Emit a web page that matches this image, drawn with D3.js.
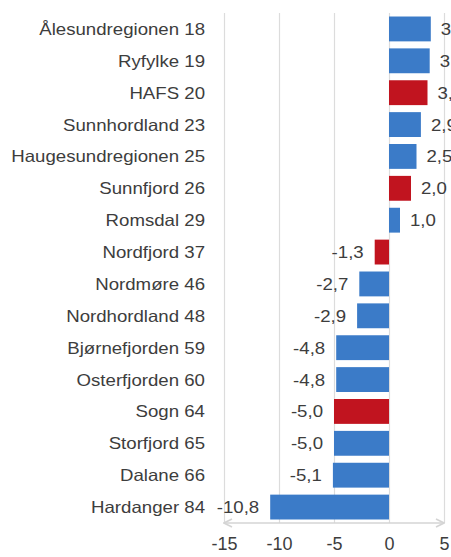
<!DOCTYPE html>
<html>
<head>
<meta charset="utf-8">
<script src="https://cdn.jsdelivr.net/npm/d3@7"></script>
<style>
  html, body { margin: 0; padding: 0; background: #fff; overflow: hidden; }
  svg { display: block; font-family: "Liberation Sans", Arial, sans-serif; }
</style>
</head>
<body>
<svg id="chart"></svg>
<script>
// regions with their number, and change value
const regions = ["Ålesundregionen 18", "Ryfylke 19", "HAFS 20", "Sunnhordland 23",
  "Haugesundregionen 25", "Sunnfjord 26", "Romsdal 29", "Nordfjord 37", "Nordmøre 46",
  "Nordhordland 48", "Bjørnefjorden 59", "Osterfjorden 60", "Sogn 64", "Storfjord 65",
  "Dalane 66", "Hardanger 84"];
const values = [3.8, 3.7, 3.5, 2.9, 2.5, 2.0, 1.0, -1.3, -2.7, -2.9, -4.8, -4.8, -5.0, -5.0, -5.1, -10.8];
const highlighted = ["HAFS 20", "Sunnfjord 26", "Nordfjord 37", "Sogn 64"];
const xTicks = [-15, -10, -5, 0, 5];

const w = 451, h = 557;
const blue = "#3b7bc8", red = "#c1141f", textColor = "#3d3d3d";
const stretch = 1.13; // text in the picture is a bit wide

const data = regions.map((r, i) => ({ name: r, value: values[i] }));

const svg = d3.select("#chart").attr("width", w).attr("height", h);

const x = d3.scaleLinear().domain([-15, 5]).range([224, 444]);
const y = d3.scaleBand().domain(regions).range([13, 523])
  .paddingInner(0.22).paddingOuter(0.11);

// gridlines
const grid = svg.append("g")
  .attr("transform", `translate(0, ${y.range()[1]})`)
  .call(d3.axisBottom(x).tickValues(xTicks).tickSize(-(y.range()[1] - y.range()[0])).tickFormat(""));
grid.select(".domain").remove();
grid.selectAll(".tick line").attr("stroke", "#dcdcdc").attr("stroke-width", 1.2);

// bars
svg.append("g").selectAll("rect")
  .data(data)
  .join("rect")
  .attr("x", d => x(Math.min(0, d.value)))
  .attr("y", d => y(d.name))
  .attr("width", d => Math.abs(x(d.value) - x(0)))
  .attr("height", y.bandwidth())
  .attr("fill", d => highlighted.includes(d.name) ? red : blue);

// x axis line with arrows
const defs = svg.append("defs");
["start", "end"].forEach(k => {
  defs.append("marker")
    .attr("id", "arrow-" + k)
    .attr("viewBox", "0 0 10 10")
    .attr("refX", 9).attr("refY", 5)
    .attr("markerWidth", 10).attr("markerHeight", 10)
    .attr("markerUnits", "userSpaceOnUse")
    .attr("orient", k === "start" ? "auto-start-reverse" : "auto")
    .append("path")
    .attr("d", "M1,1 L9,5 L1,9")
    .attr("fill", "none")
    .attr("stroke", "#d4d4d4")
    .attr("stroke-width", 1.6);
});
svg.append("line")
  .attr("x1", x(-15)).attr("x2", x(5))
  .attr("y1", y.range()[1]).attr("y2", y.range()[1])
  .attr("stroke", "#d4d4d4")
  .attr("stroke-width", 1.6)
  .attr("marker-start", "url(#arrow-start)")
  .attr("marker-end", "url(#arrow-end)");

// tick labels (plain hyphen as in the source)
const ax = svg.append("g")
  .attr("transform", `translate(0, ${y.range()[1]})`)
  .call(d3.axisBottom(x).tickValues(xTicks).tickSize(0).tickPadding(14).tickFormat(d => String(d)));
ax.select(".domain").remove();
ax.selectAll("text")
  .attr("font-size", 18)
  .attr("font-family", "Liberation Sans, Arial, sans-serif")
  .attr("fill", textColor);

// category labels
svg.append("g").selectAll("text")
  .data(data)
  .join("text")
  .attr("transform", d => `translate(205, ${y(d.name) + y.bandwidth() / 2}) scale(${stretch}, 1)`)
  .attr("text-anchor", "end")
  .attr("dy", "0.36em")
  .attr("font-size", 16.5)
  .attr("fill", textColor)
  .text(d => d.name);

// value labels, decimal comma
const fmt = v => v.toFixed(1).replace(".", ",");
svg.append("g").selectAll("text")
  .data(data)
  .join("text")
  .attr("transform", d => {
    const xp = d.value >= 0 ? x(d.value) + 10 : x(d.value) - 11;
    return `translate(${xp}, ${y(d.name) + y.bandwidth() / 2}) scale(${stretch}, 1)`;
  })
  .attr("text-anchor", d => d.value >= 0 ? "start" : "end")
  .attr("dy", "0.36em")
  .attr("font-size", 16.5)
  .attr("fill", textColor)
  .text(d => fmt(d.value));
</script>
</body>
</html>
